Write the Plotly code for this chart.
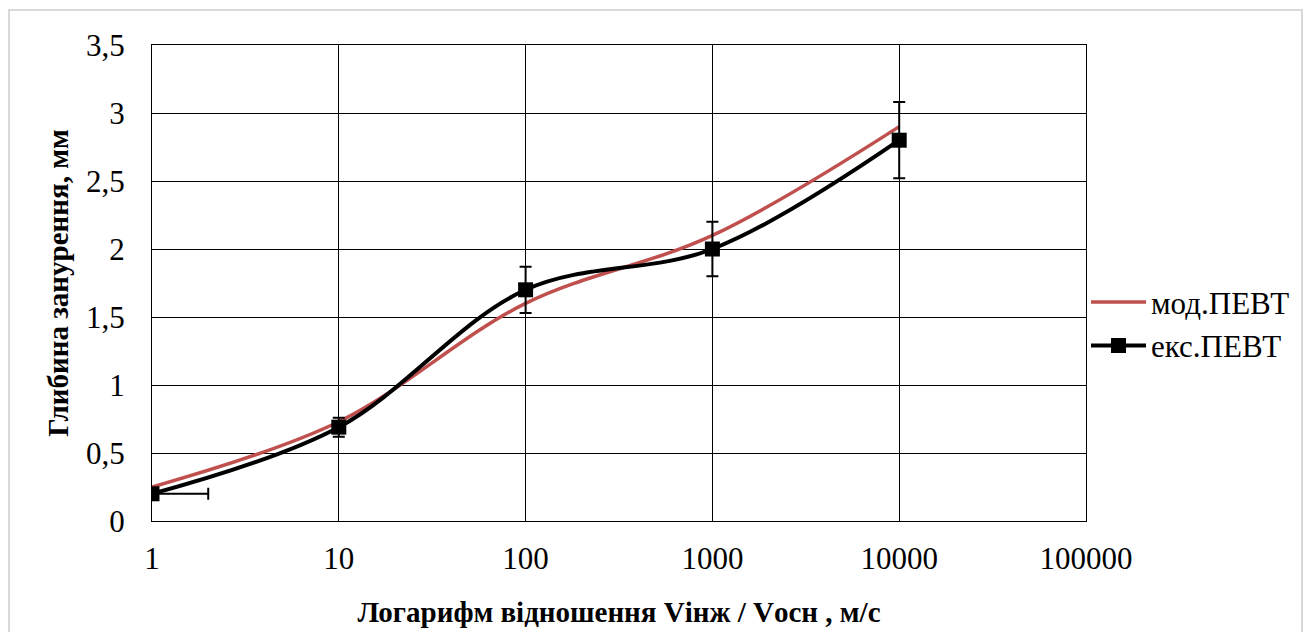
import plotly.graph_objects as go

x_vals = [1, 10, 100, 1000, 10000]
mod_pevt = [0.25, 0.73, 1.6, 2.1, 2.9]
eks_pevt = [0.2, 0.69, 1.7, 2.0, 2.8]
eks_err_y = [0.02, 0.07, 0.17, 0.2, 0.28]
eks_err_x = [1, 0, 0, 0, 0]
x_ticks = [1, 10, 100, 1000, 10000, 100000]
x_tick_text = ["1", "10", "100", "1000", "10000", "100000"]

W, H = 1311, 632
L, R, T, B = 152, 225, 45, 111
pw, ph = W - L - R, H - T - B

FF = "Liberation Serif"

fig = go.Figure()
fig.add_trace(go.Scatter(
    x=x_vals, y=mod_pevt, name="мод.ПЕВТ", mode="lines",
    line=dict(color="#C0504D", width=3.5, shape="spline", smoothing=1.0),
))
fig.add_trace(go.Scatter(
    x=x_vals, y=eks_pevt, name="екс.ПЕВТ", mode="lines+markers",
    line=dict(color="#000000", width=4, shape="spline", smoothing=1.0),
    marker=dict(symbol="square", size=15, color="#000000"),
    error_y=dict(type="data", array=eks_err_y, color="#000000", thickness=2, width=6),
    error_x=dict(type="data", array=eks_err_x, arrayminus=[0]*5, color="#000000", thickness=2, width=6),
))

fig.update_layout(
    width=W, height=H,
    margin=dict(l=L, r=R, t=T, b=B, autoexpand=False),
    paper_bgcolor="white", plot_bgcolor="white",
    separators=", ",
    font=dict(family=FF, size=31, color="#000000"),
    showlegend=True,
    legend=dict(x=1.0, xanchor="left", y=0.414, yanchor="middle",
                font=dict(size=31, family=FF, color="#000000"), tracegroupgap=22, itemwidth=55,
                bgcolor="rgba(0,0,0,0)"),
    xaxis=dict(
        type="log", range=[0, 5], tickvals=x_ticks, ticktext=x_tick_text,
        showgrid=True, gridcolor="#000000", gridwidth=1,
        showline=True, linecolor="#000000", linewidth=1, mirror=True,
        ticks="", ticklabelstandoff=10, zeroline=False, automargin=False,
        tickfont=dict(family=FF, size=31, color="#000000"),
        title=dict(text="<b>Логарифм відношення Vінж / Vосн , м/с</b>",
                   font=dict(family=FF, size=29, color="#000000"), standoff=26),
    ),
    yaxis=dict(
        range=[0, 3.5], dtick=0.5, tick0=0,
        showgrid=True, gridcolor="#000000", gridwidth=1,
        showline=True, linecolor="#000000", linewidth=1, mirror=True,
        ticks="", ticklabelstandoff=20, zeroline=False, automargin=False,
        tickfont=dict(family=FF, size=31, color="#000000"),
        title=dict(text="<b>Глибина занурення, мм</b>",
                   font=dict(family=FF, size=29, color="#000000"), standoff=8),
    ),
)

fig.add_shape(type="rect", xref="paper", yref="paper",
              x0=(9 - L) / pw, x1=(1302 - L) / pw,
              y0=(H - 660 - B) / ph, y1=(H - 10 - B) / ph,
              line=dict(color="#D9D9D9", width=2), layer="below")

fig.write_html("out.html")
